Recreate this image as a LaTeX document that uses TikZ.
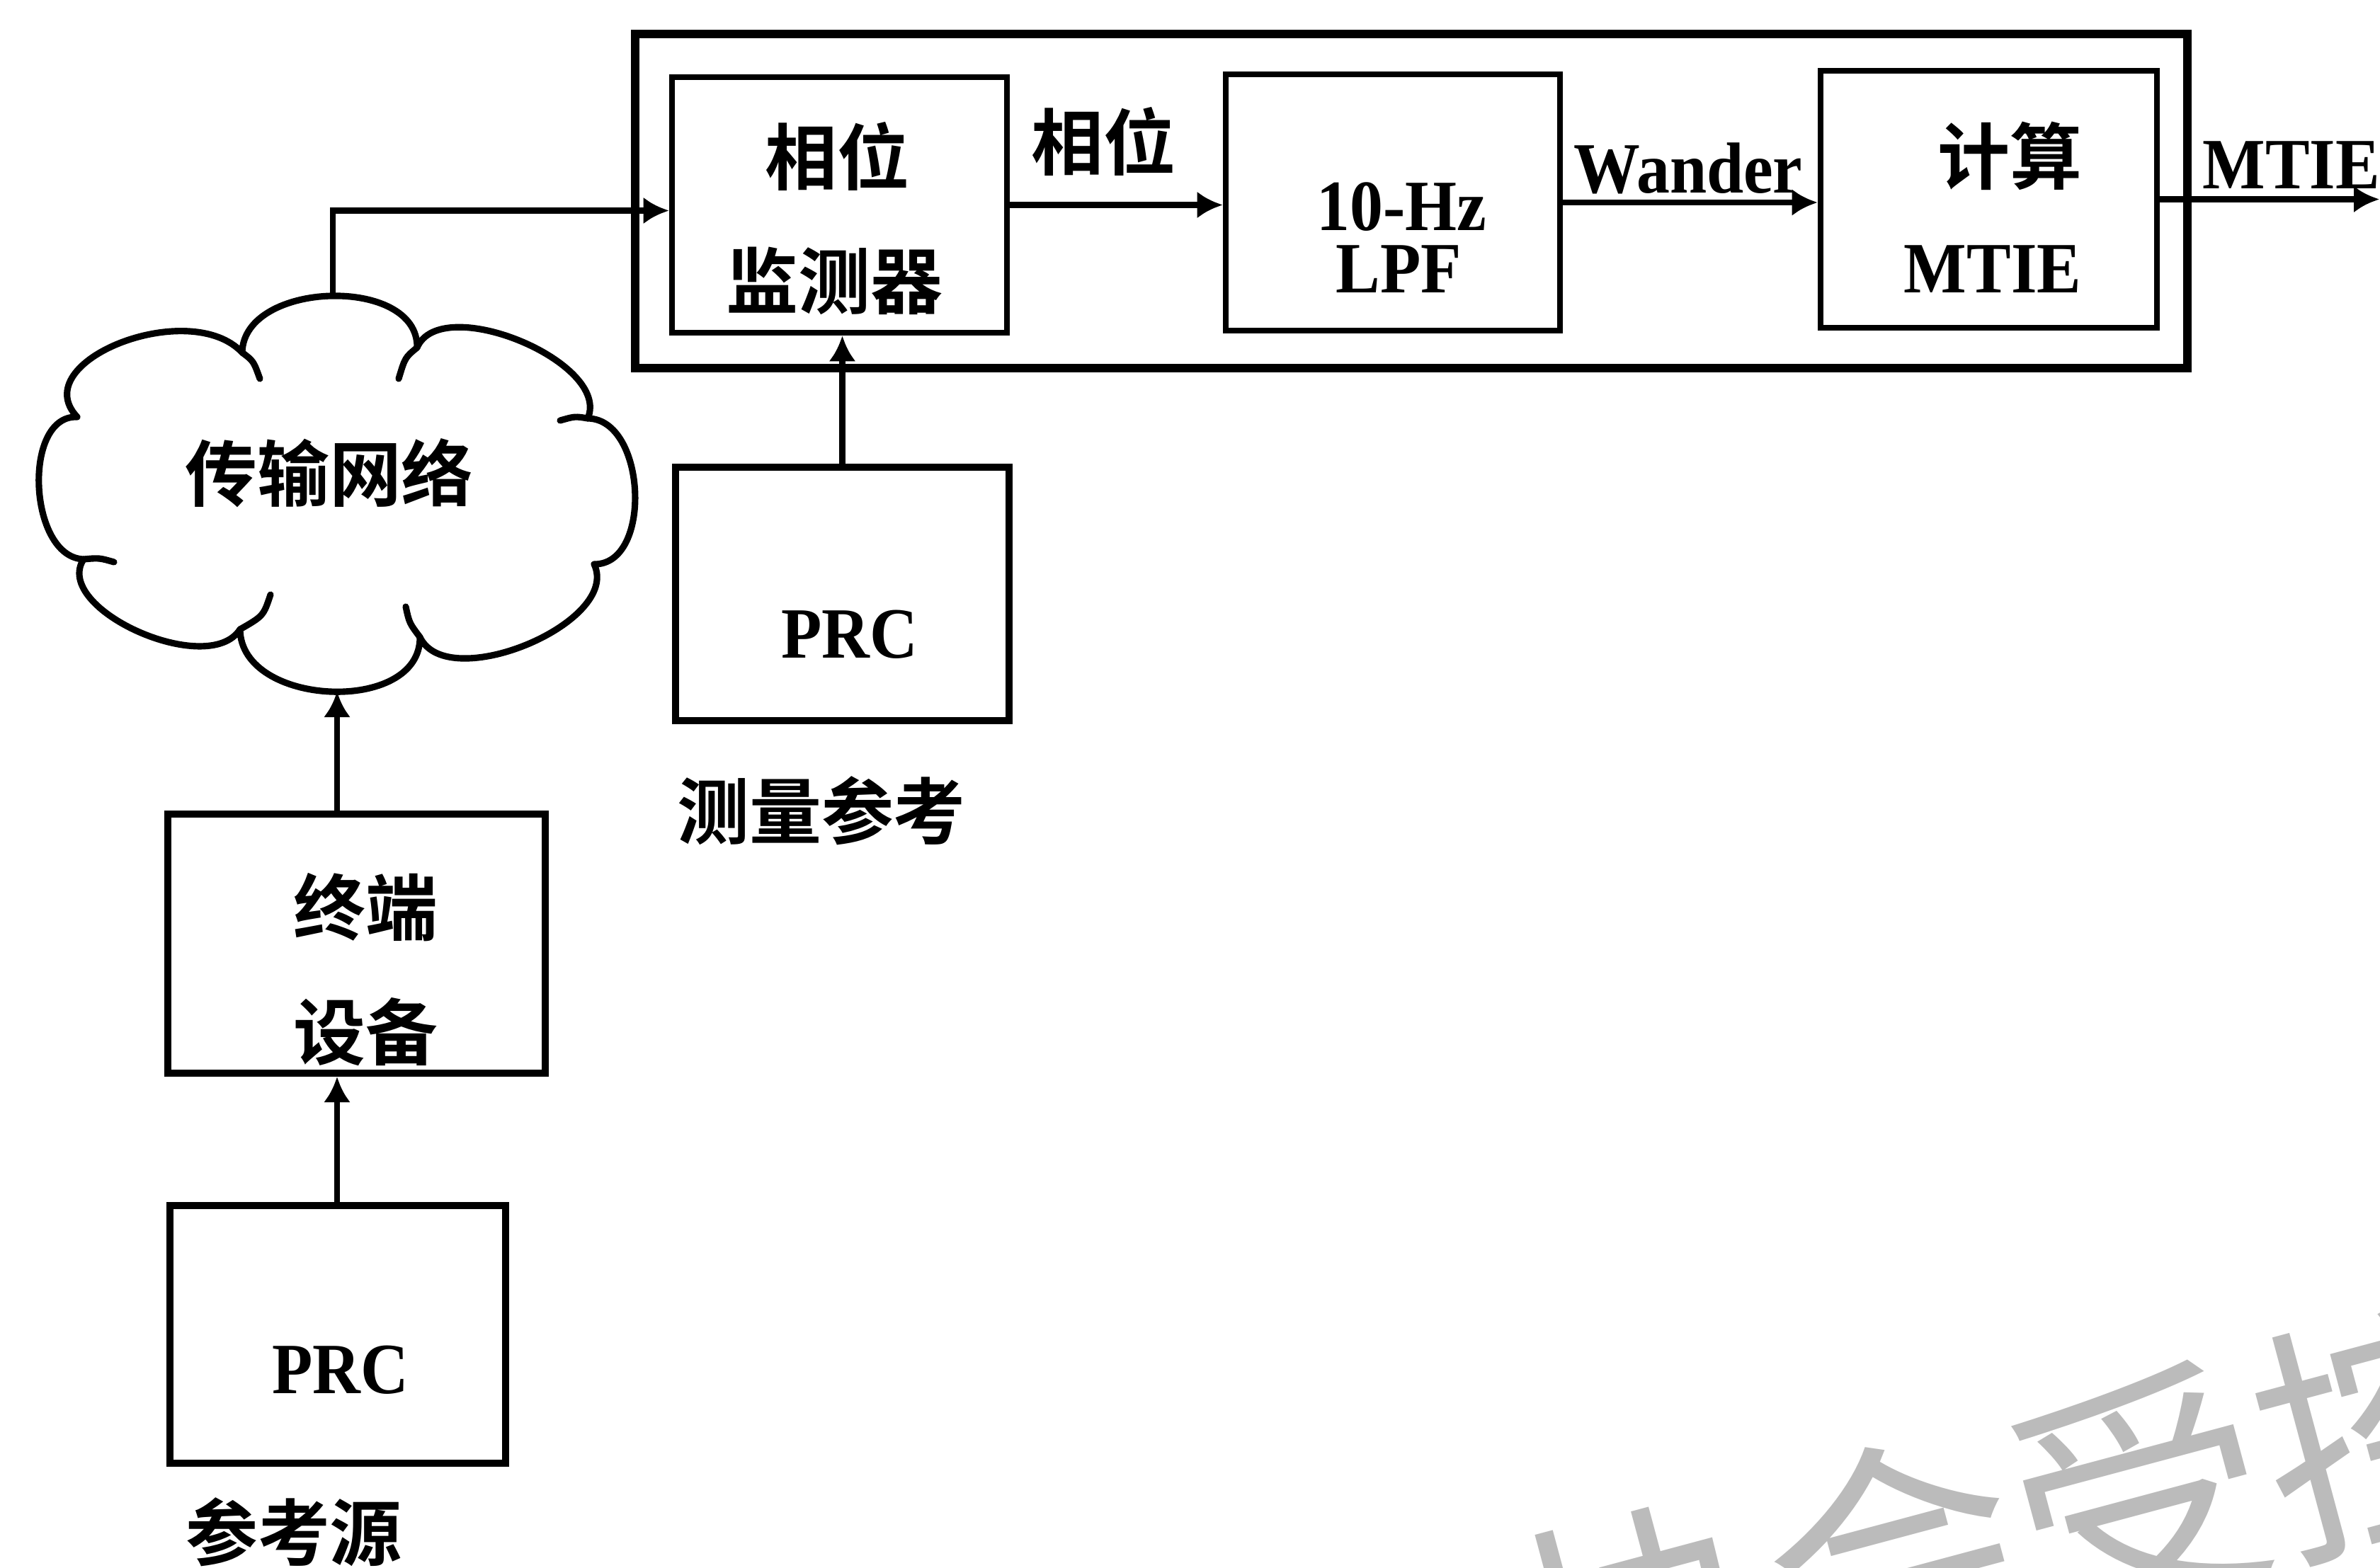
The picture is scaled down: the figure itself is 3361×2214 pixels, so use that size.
\documentclass[tikz,border=0pt]{standalone}
\usepackage{fontspec}
\usetikzlibrary{arrows.meta}
\newfontfamily\cjkf{Noto Sans CJK SC}[BoldFont={Noto Sans CJK SC Bold}]
\newfontfamily\latf{Liberation Serif}[FakeStretch=0.92]
\definecolor{wm}{HTML}{BBBBBB}
\begin{document}
\begin{tikzpicture}[x=0.01cm,y=-0.01cm,
  blk/.style={draw, line width=2.8pt, inner sep=0},
  inblk/.style={draw, line width=2.4pt, inner sep=0},
  outblk/.style={draw, line width=3.4pt, inner sep=0},
  arr/.style={draw, line width=2.5pt, -{Latex[length=3.6mm,width=3.8mm]}},
  cloudline/.style={draw, line width=2.6pt, line join=round, line cap=round},
  cj/.style={font=\cjkf\bfseries\fontsize{29pt}{32pt}\selectfont, inner sep=0},
  lt/.style={font=\latf\bfseries\fontsize{29pt}{32pt}\selectfont, inner sep=0},
  wmk/.style={font=\cjkf\fontsize{102pt}{110pt}\selectfont, text=wm, inner sep=0}
]
\useasboundingbox[fill=white] (0,0) rectangle (3361,2214);

% watermark
\node[wmk, rotate=15, anchor=base west] (wmark) at (2190,2475) {协会受控};

% boxes
\node[outblk, minimum width=21.90cm, minimum height=4.72cm] (outer) at (1993,284) {};
\node[inblk, minimum width=4.73cm, minimum height=3.61cm] (mon) at (1185.5,289.5) {};
\node[inblk, minimum width=4.72cm, minimum height=3.62cm] (lpf) at (1967,286) {};
\node[inblk, minimum width=4.75cm, minimum height=3.63cm] (calc) at (2808.5,281.5) {};
\node[blk, minimum width=4.71cm, minimum height=3.58cm] (prc1) at (1189.5,839) {};
\node[blk, minimum width=5.33cm, minimum height=3.66cm] (term) at (503.5,1333) {};
\node[blk, minimum width=4.74cm, minimum height=3.64cm] (prc2) at (477,1885) {};

% cloud
\draw[cloudline] (342,498) .. controls (344,396) and (591,389) .. (589,491)
  .. controls (623,412) and (864,512) .. (830,591)
  .. controls (913,592) and (922,798) .. (839,797)
  .. controls (878,879) and (632,982) .. (593,900)
  .. controls (594,1010) and (340,999) .. (339,889)
  .. controls (294,959) and (73,860) .. (118,790)
  .. controls (40,787) and (31,586) .. (109,589)
  .. controls (35,510) and (268,419) .. cycle;
\draw[cloudline] (342,498) .. controls (358,510) .. (367,535);
\draw[cloudline] (589,491) .. controls (572,505) .. (563,535);
\draw[cloudline] (830,591) .. controls (812,588) .. (791,594);
\draw[cloudline] (593,900) .. controls (578,880) .. (573,857);
\draw[cloudline] (339,889) .. controls (372,870) .. (382,840);
\draw[cloudline] (118,790) .. controls (140,788) .. (161,794);

\coordinate (ctop) at (470,419);
\coordinate (cbot) at (476,977);
\coordinate (mout) at (3360,283);

% texts
\node[cj] (t1a) at (1182,221) {相位};
\node[cj] (t1b) at (1178,397) {监测器};
\node[cj] (lph) at (1558,200) {相位};
\node[lt] (t2a) at (1979,292) {10-Hz};
\node[lt] (t2b) at (1975,380) {LPF};
\node[lt] (lwd) at (2384,238) {Wander};
\node[cj] (t3a) at (2838,220) {计算};
\node[lt] (t3b) at (2814,380) {MTIE};
\node[lt, anchor=west] (lmt) at (3110,233) {MTIE};
\node[cj] (ctxt) at (465,668) {传输网络};
\node[lt] (p1) at (1200,896) {PRC};
\node[cj] (l1) at (1160,1145) {测量参考};
\node[cj] (t4a) at (516,1282) {终端};
\node[cj] (t4b) at (516,1458) {设备};
\node[lt] (p2) at (481,1935) {PRC};
\node[cj] (l2) at (415,2164) {参考源};

% connectors
\draw[arr] (ctop) |- ([yshift=-0.08cm]mon.west);
\draw[arr] (mon.east) -- (mon.east -| lpf.west);
\draw[arr] (lpf.east) -- (lpf.east -| calc.west);
\draw[arr] (calc.east) -- (calc.east -| mout);
\draw[arr] (prc1.north) -- (prc1.north |- mon.south);
\draw[arr] (term.north -| cbot) -- (cbot);
\draw[arr] (prc2.north -| cbot) -- (cbot |- term.south);
\end{tikzpicture}
\end{document}
